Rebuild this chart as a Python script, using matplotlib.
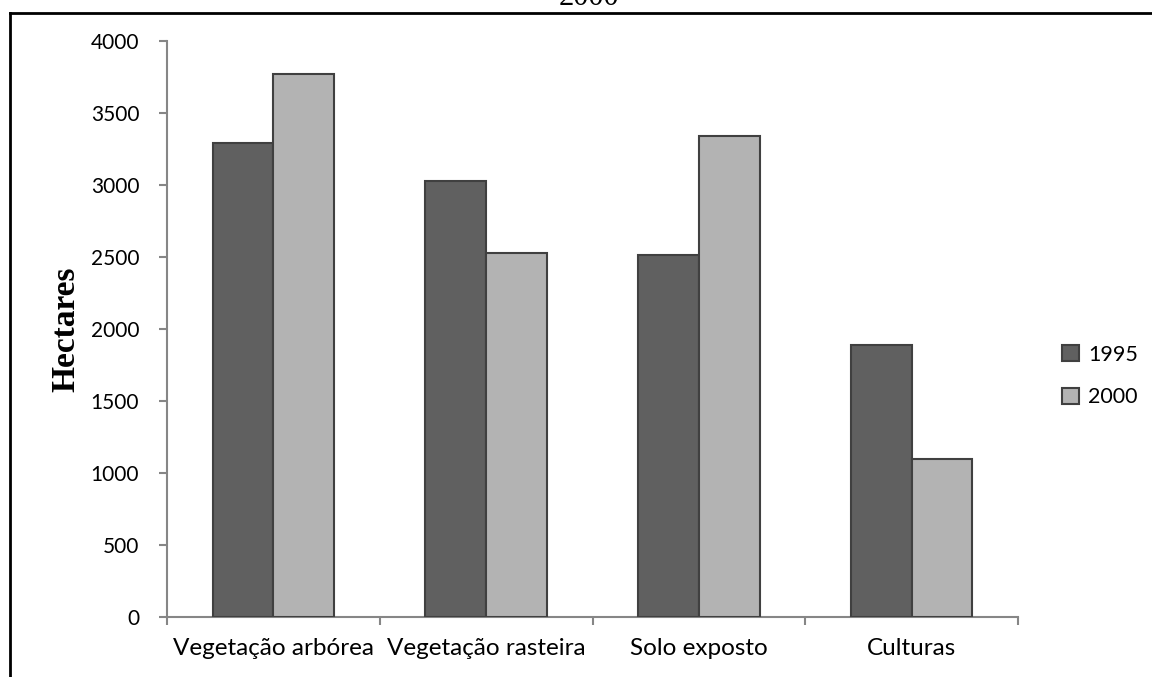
import matplotlib
matplotlib.use("Agg")
import matplotlib.pyplot as plt
from matplotlib.lines import Line2D
from matplotlib.patches import Patch
import numpy as np

categories = ["Vegetação arbórea", "Vegetação rasteira", "Solo exposto", "Culturas"]
years = ["1995", "2000"]
area_1995 = [3295, 3030, 2515, 1890]
area_2000 = [3770, 2530, 3340, 1100]
y_ticks = [0, 500, 1000, 1500, 2000, 2500, 3000, 3500, 4000]

dark = "#606060"
light = "#b3b3b3"
edge = "#404040"
axis_grey = "#868686"
sans = ["Lato", "DejaVu Sans"]
serif = ["Liberation Serif", "DejaVu Serif"]

fig = plt.figure(figsize=(11.52, 6.77), dpi=100)
ax = fig.add_axes([167 / 1152, 60 / 677, 851 / 1152, 576 / 677])

x = np.arange(len(categories))
w = 0.286
ax.bar(x - w / 2, area_1995, w, color=dark, edgecolor=edge, linewidth=1.5, zorder=3)
ax.bar(x + w / 2, area_2000, w, color=light, edgecolor=edge, linewidth=1.5, zorder=3)

ax.set_xlim(-0.5, len(categories) - 0.5)
ax.set_ylim(0, 4000)
ax.set_yticks(y_ticks)
ax.set_yticklabels([str(v) for v in y_ticks], fontfamily=sans, fontsize=15)

# boundary ticks between categories, labels centred on each group
ax.set_xticks(np.arange(-0.5, len(categories), 1.0))
ax.set_xticklabels([])
ax.set_xticks(x, minor=True)
ax.set_xticklabels(categories, minor=True, fontfamily=sans, fontsize=17.5)
ax.tick_params(axis="x", which="major", direction="out", length=6, width=1.5, color=axis_grey)
ax.tick_params(axis="x", which="minor", length=0, pad=15)
ax.tick_params(axis="y", direction="out", length=6, width=1.5, color=axis_grey, pad=14)

for side in ("top", "right"):
    ax.spines[side].set_visible(False)
for side in ("left", "bottom"):
    ax.spines[side].set_color(axis_grey)
    ax.spines[side].set_linewidth(1.5)

ax.set_ylabel("Hectares", fontfamily=serif, fontweight="bold", fontsize=24)
ax.yaxis.set_label_coords(-0.101, 0.5)

handles = [Patch(facecolor=dark, edgecolor=edge, linewidth=1.5),
           Patch(facecolor=light, edgecolor=edge, linewidth=1.5)]
fig.legend(handles, years, loc="center left", bbox_to_anchor=(1043 / 1152, 1 - 376 / 677),
           frameon=False, prop={"family": sans, "size": 15.5},
           handlelength=0.75, handleheight=0.75, handletextpad=0.45, labelspacing=1.05)

# outer frame (top and left rules) and the clipped title above it
fig.add_artist(Line2D([10 / 1152, 1.0], [1 - 13 / 677, 1 - 13 / 677], color="black", linewidth=2))
fig.add_artist(Line2D([10 / 1152, 10 / 1152], [0.0, 1 - 13 / 677], color="black", linewidth=2))
fig.text(589 / 1152, 1 - 5 / 677, "2000", ha="center", va="baseline",
         fontfamily=serif, fontsize=22)

fig.savefig("out.png", dpi=100)
